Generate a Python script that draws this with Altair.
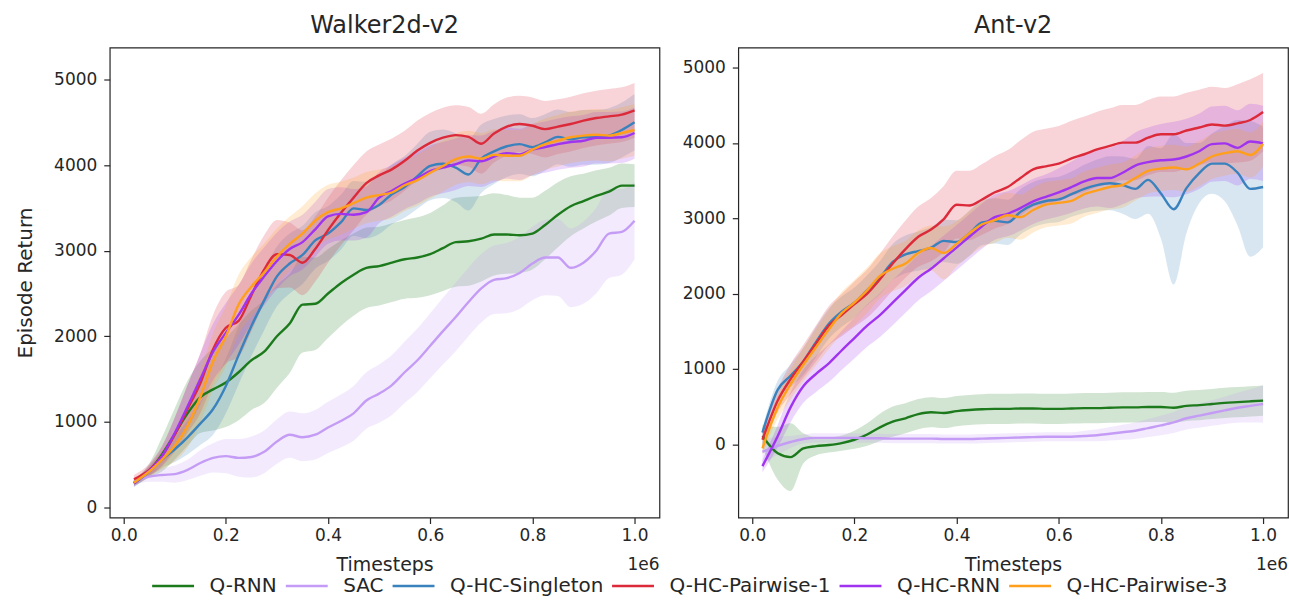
import altair as alt
import pandas as pd

FONT = "DejaVu Sans"
INK = "#262626"

SERIES = ["Q-RNN", "SAC", "Q-HC-Singleton", "Q-HC-Pairwise-1", "Q-HC-RNN", "Q-HC-Pairwise-3"]
COLORS = ["#1c7a1c", "#c59cf5", "#3a82bd", "#dc2a3a", "#a033f0", "#ff9f1c"]

X = [0.02, 0.05, 0.075, 0.1, 0.125, 0.15, 0.175, 0.2, 0.225, 0.25, 0.275, 0.3, 0.325, 0.35,
     0.375, 0.4, 0.425, 0.45, 0.475, 0.5, 0.525, 0.55, 0.575, 0.6, 0.625, 0.65, 0.675, 0.7,
     0.725, 0.75, 0.775, 0.8, 0.825, 0.85, 0.875, 0.9, 0.925, 0.95, 0.975, 1.0]

# ---------------- Walker2d-v2 (mean returns) ----------------
W_QRNN = [290, 430, 620, 860, 1100, 1290, 1380, 1460, 1580, 1720, 1820, 2000, 2150, 2370, 2380, 2500,
          2620, 2720, 2800, 2820, 2860, 2900, 2920, 2960, 3030, 3100, 3110, 3140, 3190, 3190, 3180, 3200,
          3300, 3420, 3520, 3580, 3640, 3690, 3760, 3760]
W_SAC = [300, 360, 380, 390, 440, 520, 580, 600, 580, 590, 650, 770, 850, 820, 850, 935, 1010, 1100,
         1250, 1330, 1430, 1580, 1720, 1890, 2060, 2225, 2400, 2560, 2660, 2680, 2740, 2850, 2920, 2920,
         2800, 2860, 3000, 3200, 3220, 3350]
W_SING = [280, 420, 560, 680, 820, 980, 1150, 1420, 1780, 2120, 2420, 2700, 2850, 2950, 3120, 3200,
          3330, 3495, 3475, 3535, 3660, 3745, 3870, 3990, 4015, 3970, 3890, 4075, 4160, 4220, 4245, 4210,
          4265, 4330, 4300, 4325, 4325, 4345, 4410, 4500]
W_PW1 = [330, 440, 600, 850, 1150, 1450, 1850, 2100, 2180, 2480, 2780, 2960, 2950, 2860, 3020, 3240,
         3440, 3620, 3790, 3880, 3950, 4050, 4170, 4260, 4320, 4350, 4330, 4250, 4370, 4450, 4480, 4460,
         4420, 4450, 4480, 4520, 4550, 4570, 4590, 4640]
W_RNN = [280, 430, 600, 870, 1180, 1500, 1820, 2040, 2250, 2500, 2700, 2880, 3020, 3100, 3250, 3400,
         3430, 3420, 3450, 3620, 3700, 3785, 3850, 3930, 3970, 4010, 4055, 4045, 4100, 4140, 4125, 4180,
         4210, 4245, 4270, 4285, 4320, 4320, 4325, 4375]
W_PW3 = [290, 420, 560, 720, 950, 1290, 1705, 2000, 2370, 2580, 2745, 2930, 3080, 3200, 3350, 3450,
         3495, 3555, 3620, 3650, 3680, 3765, 3825, 3910, 3990, 4070, 4100, 4075, 4120, 4110, 4110, 4180,
         4245, 4285, 4325, 4345, 4355, 4345, 4375, 4410]

# Walker2d-v2 band half-widths
WS_QRNN = [40, 80, 200, 300, 380, 420, 480, 520, 560, 580, 600, 600, 580, 560, 540, 520, 500, 480, 470,
           460, 460, 460, 470, 480, 500, 520, 520, 500, 480, 460, 440, 420, 400, 380, 350, 320, 300, 280,
           260, 250]
WS_SAC = [40, 60, 80, 100, 120, 150, 170, 200, 220, 240, 250, 260, 270, 280, 290, 300, 310, 320, 330, 340,
          350, 360, 370, 380, 390, 400, 400, 400, 400, 410, 420, 430, 440, 450, 460, 480, 500, 520, 500, 450]
WS_SING = [40, 60, 100, 150, 200, 250, 300, 320, 340, 350, 350, 350, 350, 340, 330, 320, 320, 320, 330,
           340, 350, 360, 380, 400, 400, 400, 420, 400, 380, 360, 350, 340, 330, 320, 320, 320, 320, 320,
           320, 330]
WS_PW1 = [50, 70, 120, 200, 280, 350, 400, 420, 420, 420, 400, 400, 380, 380, 380, 380, 380, 380, 370,
          360, 360, 350, 350, 350, 350, 350, 350, 350, 340, 340, 330, 330, 330, 320, 320, 320, 320, 320,
          320, 320]
WS_RNN = [40, 60, 110, 180, 250, 300, 330, 350, 350, 350, 340, 330, 320, 320, 320, 320, 310, 300, 300,
          300, 300, 300, 300, 300, 300, 300, 300, 300, 300, 300, 300, 300, 300, 300, 300, 300, 300, 300,
          300, 300]
WS_PW3 = [40, 60, 110, 180, 250, 300, 330, 350, 350, 350, 340, 330, 320, 320, 320, 320, 310, 300, 300,
          300, 300, 300, 300, 300, 300, 300, 300, 300, 300, 300, 300, 300, 300, 300, 300, 300, 300, 300,
          300, 300]

# ---------------- Ant-v2 (mean returns) ----------------
A_QRNN = [110, -120, -170, -55, -25, -10, 15, 60, 130, 225, 300, 345, 400, 425, 415, 440, 455, 465, 470,
          470, 475, 475, 470, 470, 475, 480, 480, 485, 490, 490, 495, 495, 485, 510, 520, 535, 550, 560,
          570, 580]
A_SAC = [-100, -20, 30, 70, 85, 85, 85, 85, 80, 80, 75, 75, 75, 75, 70, 70, 70, 75, 80, 85, 90, 95, 100,
         100, 100, 110, 120, 140, 160, 180, 215, 250, 290, 345, 380, 415, 450, 485, 510, 535]
A_SING = [155, 725, 910, 1100, 1360, 1600, 1760, 1880, 2045, 2210, 2420, 2520, 2565, 2610, 2700, 2685,
          2800, 2945, 2965, 2945, 3085, 3180, 3230, 3250, 3320, 3390, 3440, 3465, 3440, 3390, 3510, 3330,
          3120, 3400, 3600, 3725, 3725, 3605, 3390, 3415]
A_PW1 = [60, 580, 865, 1100, 1340, 1575, 1715, 1860, 2000, 2190, 2400, 2590, 2755, 2850, 2990, 3180,
         3170, 3250, 3345, 3415, 3535, 3650, 3690, 3725, 3795, 3850, 3915, 3960, 4005, 4005, 4070, 4115,
         4115, 4165, 4205, 4245, 4230, 4260, 4305, 4410]
A_RNN = [-290, 110, 490, 770, 935, 1075, 1245, 1410, 1575, 1715, 1880, 2045, 2210, 2330, 2470, 2610,
         2755, 2895, 3015, 3060, 3135, 3225, 3285, 3345, 3415, 3490, 3535, 3535, 3605, 3700, 3745, 3770,
         3780, 3820, 3890, 3985, 3995, 3935, 4020, 3995]
A_PW3 = [-55, 490, 795, 1055, 1290, 1525, 1740, 1880, 2045, 2235, 2330, 2400, 2540, 2605, 2540, 2660,
         2800, 2920, 2975, 3040, 3015, 3110, 3180, 3205, 3230, 3320, 3370, 3415, 3440, 3535, 3630, 3660,
         3675, 3650, 3725, 3820, 3865, 3890, 3840, 3985]

# Ant-v2 band half-widths
AS_QRNN = [150, 350, 450, 200, 120, 100, 100, 120, 150, 180, 200, 200, 200, 200, 200, 200, 200, 200, 200,
           200, 200, 200, 200, 200, 200, 200, 200, 200, 200, 200, 200, 200, 200, 200, 200, 200, 200, 200,
           200, 200]
AS_SAC = [150, 120, 80, 60, 60, 60, 60, 60, 60, 60, 60, 60, 60, 60, 60, 60, 60, 60, 60, 60, 60, 60, 60,
          60, 60, 70, 80, 90, 100, 110, 120, 130, 140, 150, 160, 170, 180, 200, 220, 250]
AS_SING = [60, 120, 150, 180, 200, 200, 200, 200, 200, 220, 240, 250, 260, 270, 280, 290, 300, 300, 300,
           300, 300, 300, 300, 300, 300, 320, 340, 360, 380, 400, 450, 600, 1000, 600, 400, 400, 500, 700,
           900, 800]
AS_PW1 = [80, 150, 200, 220, 240, 260, 280, 300, 320, 340, 360, 380, 400, 420, 440, 450, 460, 470, 480,
          490, 500, 500, 500, 500, 500, 500, 500, 500, 500, 500, 500, 500, 500, 500, 500, 500, 500, 520,
          540, 520]
AS_RNN = [80, 150, 200, 220, 240, 250, 260, 270, 280, 290, 300, 300, 300, 300, 300, 300, 300, 300, 300,
          300, 300, 300, 300, 320, 340, 360, 380, 400, 420, 440, 460, 480, 500, 500, 500, 500, 500, 500,
          500, 500]
AS_PW3 = [80, 150, 200, 220, 240, 260, 280, 300, 300, 300, 300, 300, 300, 300, 350, 300, 300, 300, 300,
          300, 300, 300, 300, 300, 300, 300, 300, 300, 300, 300, 300, 300, 300, 300, 300, 300, 300, 300,
          300, 300]

X_TICKS = [0.0, 0.2, 0.4, 0.6, 0.8, 1.0]
Y_TICKS = [0, 1000, 2000, 3000, 4000, 5000]
X_DOMAIN = [-0.0273, 1.0488]
W_DOMAIN = [-117, 5373]
A_DOMAIN = [-972, 5266]

PW, PH = 551, 471


def frame(means, spreads):
    rows = []
    for name, m, s in zip(SERIES, means, spreads):
        for i, xv in enumerate(X):
            rows.append({"x": xv, "series": name,
                         "mean": m[i], "lo": m[i] - s[i], "hi": m[i] + s[i]})
    return pd.DataFrame(rows)


COLOR = alt.Color(
    "series:N",
    scale=alt.Scale(domain=SERIES, range=COLORS),
    legend=alt.Legend(
        title="", orient="none", direction="horizontal", legendX=41, legendY=517,
        symbolType="stroke", symbolSize=1764, symbolStrokeWidth=2.5, symbolOpacity=1,
        labelFont=FONT, labelFontSize=20, labelColor=INK, labelOffset=14, labelLimit=400,
        columnPadding=3, padding=0,
    ),
)


def panel(df, title, ydom, ytitle):
    base = alt.Chart(df)
    xenc = alt.X("x:Q", scale=alt.Scale(domain=X_DOMAIN, nice=False, zero=False),
                 axis=alt.Axis(values=X_TICKS, format=".1f", title="Timesteps"))
    yaxis = alt.Axis(values=Y_TICKS, format="d", title=ytitle)
    yscale = alt.Scale(domain=ydom, nice=False, zero=False)
    band = base.mark_area(opacity=0.2, interpolate="monotone").encode(
        x=xenc,
        y=alt.Y("lo:Q", scale=yscale, axis=yaxis),
        y2="hi:Q",
        color=COLOR,
    )
    line = base.mark_line(strokeWidth=2.4, interpolate="monotone").encode(
        x=xenc,
        y=alt.Y("mean:Q", scale=yscale, axis=yaxis),
        color=COLOR,
    )
    note = alt.Chart(pd.DataFrame({"t": ["1e6"]})).mark_text(
        align="right", baseline="alphabetic", font=FONT, fontSize=17, color=INK
    ).encode(x=alt.value(PW), y=alt.value(PH + 53), text="t:N")
    return alt.layer(band, line, note).properties(
        width=PW, height=PH,
        title=alt.TitleParams(title, font=FONT, fontSize=24, fontWeight="normal", color=INK, offset=10),
    )


walker = panel(frame([W_QRNN, W_SAC, W_SING, W_PW1, W_RNN, W_PW3],
                     [WS_QRNN, WS_SAC, WS_SING, WS_PW1, WS_RNN, WS_PW3]),
               "Walker2d-v2", W_DOMAIN, "Episode Return")
ant = panel(frame([A_QRNN, A_SAC, A_SING, A_PW1, A_RNN, A_PW3],
                  [AS_QRNN, AS_SAC, AS_SING, AS_PW1, AS_RNN, AS_PW3]),
            "Ant-v2", A_DOMAIN, "")

chart = alt.hconcat(walker, ant, spacing=79, bounds="flush").properties(
    padding={"left": 15, "top": 12, "right": 0, "bottom": 0}
).configure_view(stroke=INK, strokeWidth=1.2).configure_axis(
    domain=False, grid=False, ticks=True, tickSize=6, tickColor=INK, tickWidth=1.2,
    labelFont=FONT, labelFontSize=17, labelColor=INK, labelPadding=4,
    titleFont=FONT, titleFontSize=19, titleFontWeight="normal", titleColor=INK,
).configure_axisX(titlePadding=12).configure_axisY(titleFontSize=20, labelPadding=7, titlePadding=18)

chart.save("out.html", embed_options={"renderer": "svg", "actions": False})
